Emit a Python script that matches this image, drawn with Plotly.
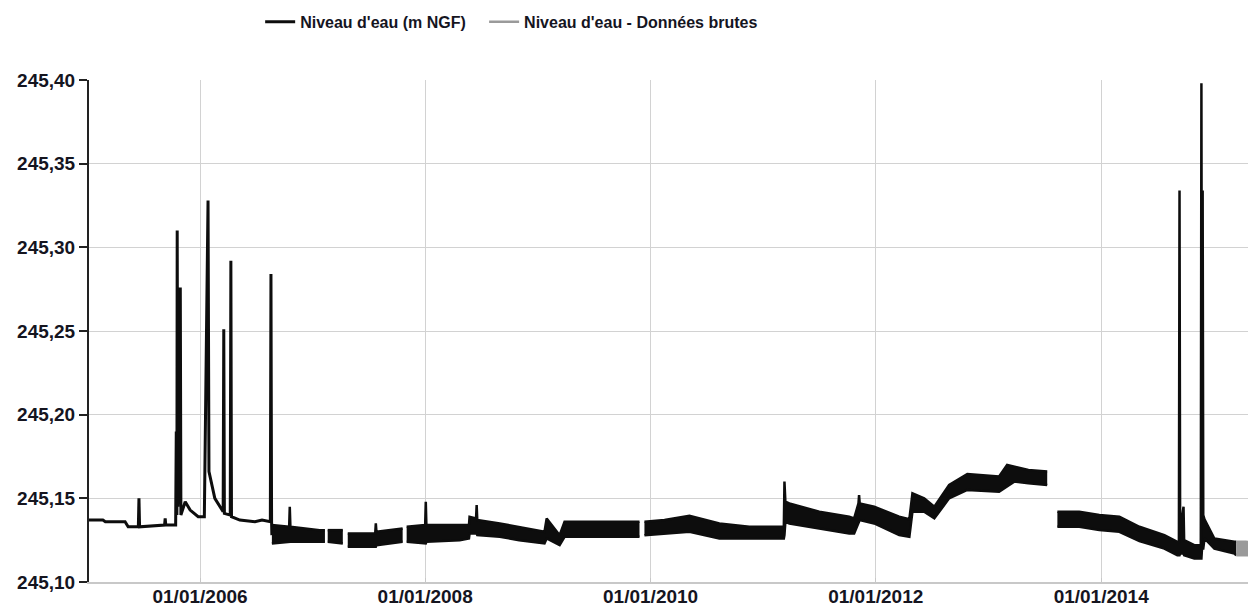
import plotly.graph_objects as go

# --- thin record, 2005 -> summer 2006 (single line, with flood spikes)
thin_dates = [
    "2005-01-01", "2005-02-20", "2005-02-28", "2005-05-03", "2005-05-13",
    "2005-06-15", "2005-06-17", "2005-06-19", "2005-09-08", "2005-09-10",
    "2005-09-12", "2005-10-14", "2005-10-16", "2005-10-18", "2005-10-19",
    "2005-10-21", "2005-10-29", "2005-10-31", "2005-11-14", "2005-11-30",
    "2005-12-26", "2006-01-15", "2006-01-27", "2006-01-30", "2006-02-18",
    "2006-03-17", "2006-03-19", "2006-03-21", "2006-04-09", "2006-04-11",
    "2006-04-13", "2006-05-10", "2006-06-28", "2006-07-21", "2006-08-17",
    "2006-08-19", "2006-08-21", "2006-08-22",
]
thin_level = [
    245.137, 245.137, 245.136, 245.136, 245.133,
    245.133, 245.150, 245.133, 245.134, 245.138,
    245.134, 245.134, 245.190, 245.140, 245.310,
    245.145, 245.276, 245.140, 245.148, 245.143,
    245.139, 245.139, 245.328, 245.166, 245.150,
    245.142, 245.251, 245.141, 245.140, 245.292,
    245.139, 245.137, 245.136, 245.137, 245.136,
    245.284, 245.136, 245.128,
]

# --- noisy record: upper / lower envelope of the daily band (None = gap)
band_dates = [
    "2006-08-22", "2006-10-17", "2006-10-19", "2006-10-21", "2007-01-24", "2007-02-10", None,
    "2007-02-19", "2007-04-09", None,
    "2007-04-25", "2007-07-23", "2007-07-25", "2007-07-27", "2007-10-20", None,
    "2007-11-02", "2008-01-01", "2008-01-03", "2008-01-05", "2008-04-22", "2008-05-22",
    "2008-05-24", "2008-06-14", "2008-06-16", "2008-06-18", "2008-08-30", "2008-11-01",
    "2009-01-22", "2009-01-29", "2009-03-12", "2009-03-28", "2009-07-20", "2009-11-26", None,
    "2009-12-12", "2010-02-15", "2010-05-07", "2010-08-12", "2010-11-17", "2011-03-09",
    "2011-03-11", "2011-03-14", "2011-03-27", "2011-07-02", "2011-10-07", "2011-10-23",
    "2011-11-06", "2011-11-08", "2011-11-10", "2011-12-27", "2012-03-17", "2012-04-19",
    "2012-04-29", "2012-06-06", "2012-07-09", "2012-08-26", "2012-10-24", "2013-02-04",
    "2013-03-02", "2013-03-25", "2013-05-10", "2013-07-10", None,
    "2013-08-12", "2013-10-22", "2013-12-26", "2014-03-01", "2014-05-05", "2014-07-25",
    "2014-09-05", "2014-09-10", "2014-09-12", "2014-09-14", "2014-09-25", "2014-09-27",
    "2014-10-30", "2014-11-20", "2014-11-22", "2014-11-24", "2014-11-26", "2014-11-28",
    "2014-12-02", "2015-01-03", "2015-03-09", "2015-03-15",
]
band_high = [
    245.134, 245.133, 245.145, 245.133, 245.131, 245.131, None,
    245.131, 245.131, None,
    245.129, 245.129, 245.135, 245.130, 245.132, None,
    245.133, 245.134, 245.148, 245.134, 245.134, 245.134,
    245.139, 245.138, 245.146, 245.137, 245.135, 245.133,
    245.130, 245.138, 245.128, 245.136, 245.136, 245.136, None,
    245.136, 245.137, 245.1395, 245.135, 245.133, 245.133,
    245.160, 245.148, 245.147, 245.142, 245.139, 245.138,
    245.147, 245.152, 245.147, 245.145, 245.139, 245.1375,
    245.153, 245.150, 245.145, 245.158, 245.1645, 245.163,
    245.170, 245.169, 245.167, 245.166, None,
    245.142, 245.142, 245.140, 245.139, 245.133, 245.128,
    245.124, 245.124, 245.334, 245.130, 245.145, 245.125,
    245.122, 245.122, 245.398, 245.140, 245.334, 245.140,
    245.1375, 245.126, 245.124, 245.124,
]
band_low = [
    245.123, 245.124, 245.124, 245.124, 245.124, 245.124, None,
    245.124, 245.123, None,
    245.121, 245.121, 245.121, 245.122, 245.124, None,
    245.124, 245.123, 245.123, 245.124, 245.125, 245.126,
    245.129, 245.129, 245.129, 245.128, 245.127, 245.125,
    245.123, 245.126, 245.122, 245.127, 245.127, 245.127, None,
    245.128, 245.129, 245.130, 245.126, 245.126, 245.126,
    245.128, 245.136, 245.135, 245.132, 245.129, 245.129,
    245.136, 245.137, 245.137, 245.135, 245.128, 245.127,
    245.142, 245.142, 245.138, 245.150, 245.155, 245.154,
    245.157, 245.160, 245.159, 245.158, None,
    245.133, 245.133, 245.131, 245.130, 245.1245, 245.120,
    245.116, 245.116, 245.116, 245.117, 245.117, 245.116,
    245.114, 245.114, 245.114, 245.120, 245.120, 245.120,
    245.126, 245.120, 245.117, 245.116,
]

# --- raw (unvalidated) data at the end of the record
raw_dates = ["2015-03-15", "2015-04-15", "2015-05-25"]
raw_high = [245.124, 245.124, 245.123]
raw_low = [245.116, 245.116, 245.116]

tick_dates = ["2006-01-01", "2008-01-01", "2010-01-01", "2012-01-01", "2014-01-01"]
tick_labels = ["01/01/2006", "01/01/2008", "01/01/2010", "01/01/2012", "01/01/2014"]
y_ticks = [245.10, 245.15, 245.20, 245.25, 245.30, 245.35, 245.40]

BLACK = "#0d0d0d"
GREY = "#9a9a9a"
FONT = "Liberation Sans, Arial, sans-serif"
TXT = "#15151f"


def split_segments(dates, high, low):
    segs, cur = [], ([], [], [])
    for d, h, l in zip(dates, high, low):
        if d is None:
            if cur[0]:
                segs.append(cur)
            cur = ([], [], [])
            continue
        cur[0].append(d)
        cur[1].append(h)
        cur[2].append(l)
    if cur[0]:
        segs.append(cur)
    return segs


def add_band(fig, dates, high, low, color, name=None, show=False):
    fig.add_trace(go.Scatter(
        x=dates, y=high, mode="lines", name=name, showlegend=show,
        line=dict(color=color, width=2.5), hoverinfo="skip",
    ))
    fig.add_trace(go.Scatter(
        x=dates, y=low, mode="lines", showlegend=False,
        line=dict(color=color, width=2.5), fill="tonexty", fillcolor=color,
        hoverinfo="skip",
    ))


fig = go.Figure()
fig.add_trace(go.Scatter(
    x=thin_dates, y=thin_level, mode="lines",
    name="Niveau d'eau (m NGF)\u00a0\u00a0\u00a0",
    line=dict(color=BLACK, width=3), hoverinfo="skip",
))
for d, h, l in split_segments(band_dates, band_high, band_low):
    add_band(fig, d, h, l, BLACK)
add_band(fig, raw_dates, raw_high, raw_low, GREY,
         name="Niveau d'eau - Données brutes", show=True)

# page body adds an 8 px offset, margins are set so the plot lands on the reference frame
fig.update_layout(
    width=1256, height=605,
    margin=dict(l=81, r=8, t=72, b=31, autoexpand=False),
    paper_bgcolor="white", plot_bgcolor="white",
    separators=", ",
    font=dict(family=FONT, size=16, color=TXT),
    legend=dict(
        orientation="h", xref="container", yref="container",
        x=0.401, y=0.977, xanchor="center", yanchor="middle",
        traceorder="normal",
        font=dict(family=FONT, size=16, color=TXT, weight="bold"),
    ),
    showlegend=True,
)
fig.update_xaxes(
    type="date", range=["2005-01-06", "2015-05-18"],
    tickvals=tick_dates, ticktext=tick_labels,
    showgrid=True, gridcolor="#d2d2d2", gridwidth=1,
    showline=True, linecolor="#c8c8c8", linewidth=2,
    ticks="inside", ticklen=4, tickcolor="#c8c8c8",
    ticklabelstandoff=-4,
    tickfont=dict(family=FONT, size=19, color=TXT, weight="bold"),
    zeroline=False,
)
fig.update_yaxes(
    range=[245.10, 245.40], tickvals=y_ticks, tickformat=".2f",
    showgrid=True, gridcolor="#d2d2d2", gridwidth=1,
    showline=True, linecolor="#222222", linewidth=2,
    ticks="outside", ticklen=8, tickwidth=2, tickcolor="#222222",
    tickfont=dict(family=FONT, size=19, color=TXT, weight="bold"),
    zeroline=False,
)

fig.write_html("out.html")
